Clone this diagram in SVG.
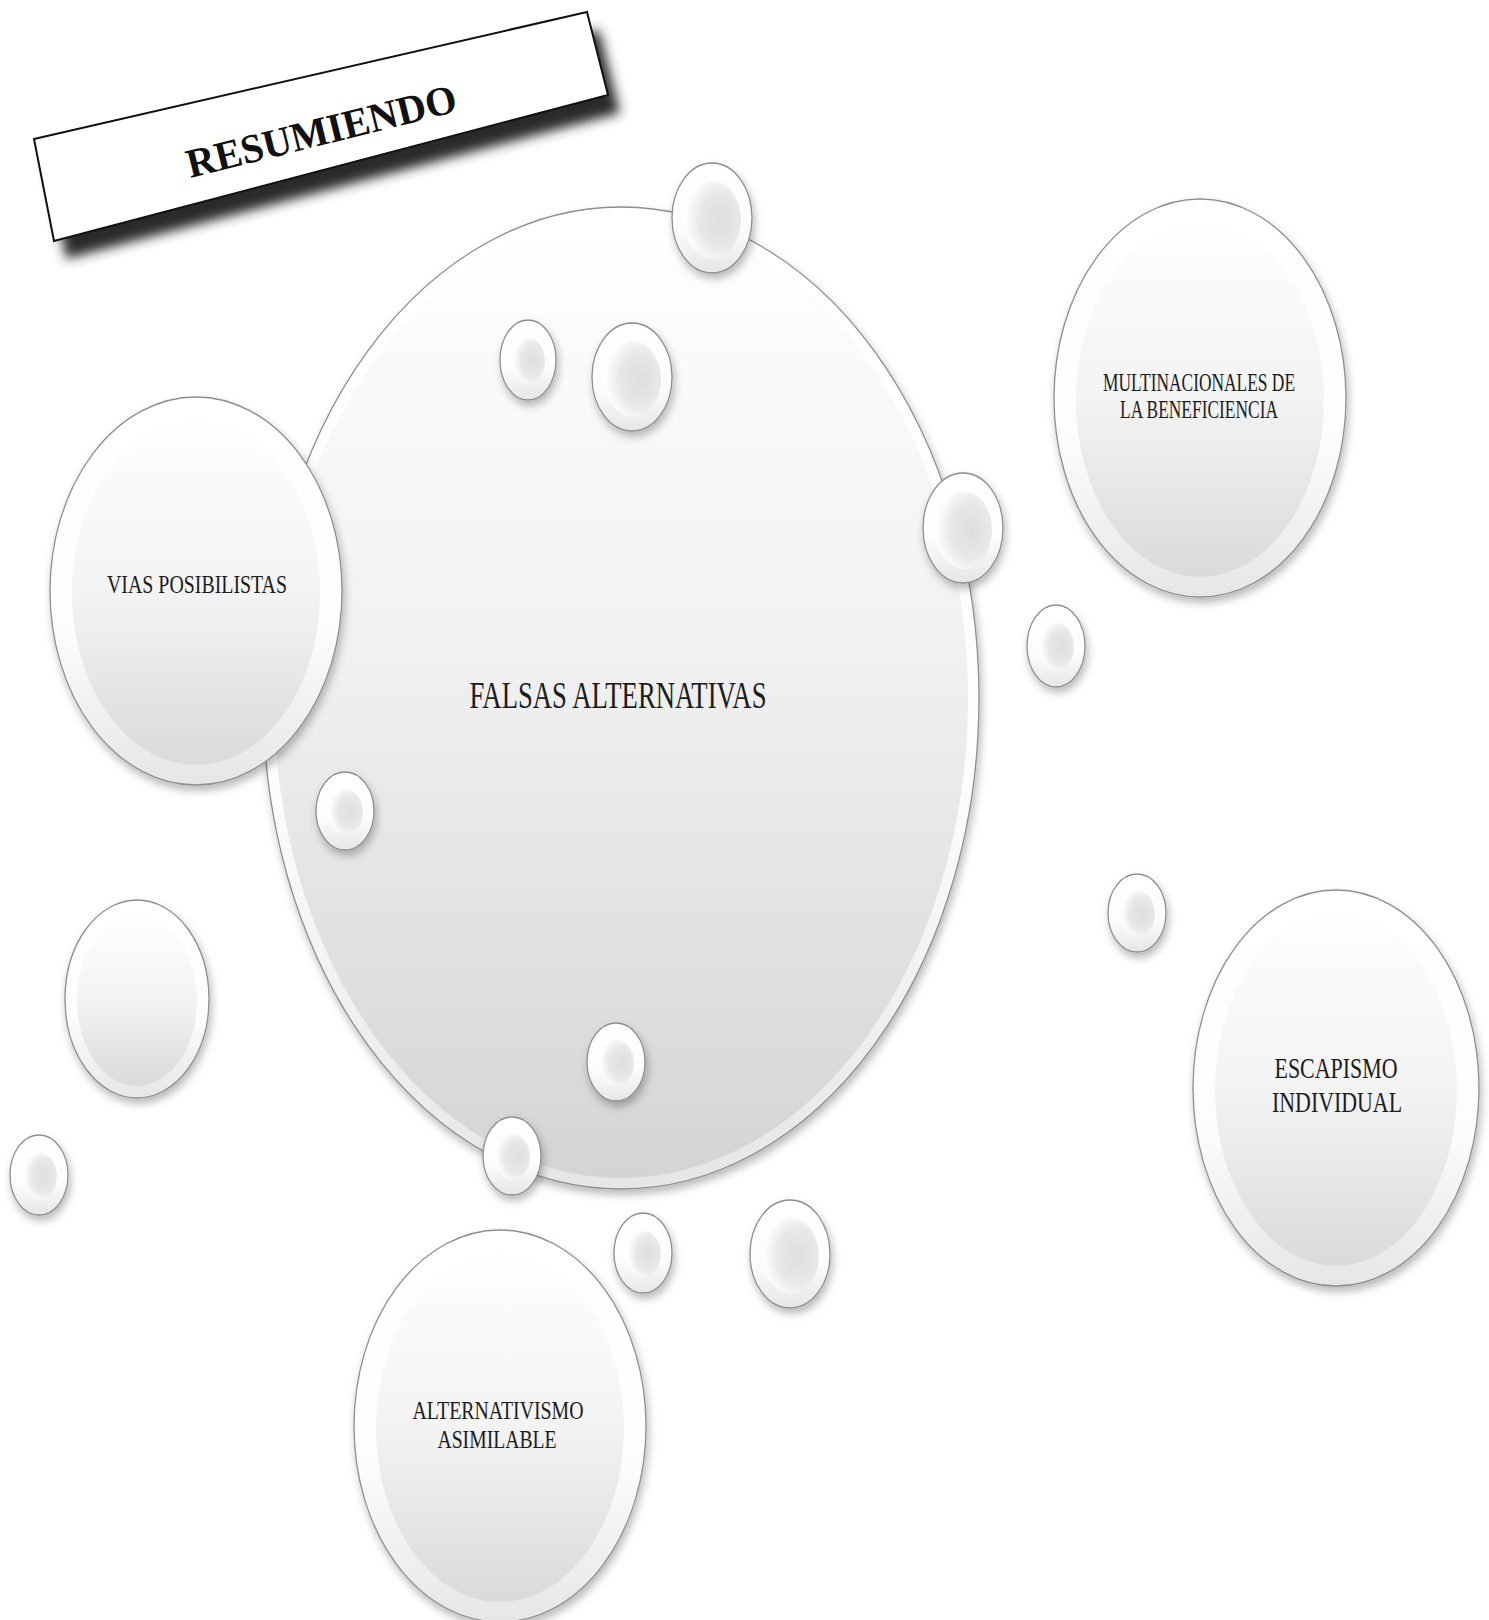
<svg xmlns="http://www.w3.org/2000/svg" width="1489" height="1620" viewBox="0 0 1489 1620">
<defs>
  <linearGradient id="rim" x1="0" y1="0" x2="0" y2="1">
    <stop offset="0" stop-color="#ffffff"/>
    <stop offset="0.6" stop-color="#fcfcfc"/>
    <stop offset="1" stop-color="#e6e6e6"/>
  </linearGradient>
  <linearGradient id="face" x1="0" y1="0" x2="0" y2="1">
    <stop offset="0" stop-color="#fefefe"/>
    <stop offset="0.5" stop-color="#f3f3f3"/>
    <stop offset="1" stop-color="#dadada"/>
  </linearGradient>
  <linearGradient id="faceBig" x1="0" y1="0" x2="0" y2="1">
    <stop offset="0" stop-color="#ffffff"/>
    <stop offset="0.45" stop-color="#f1f1f1"/>
    <stop offset="1" stop-color="#d4d4d4"/>
  </linearGradient>
  <radialGradient id="dot" cx="0.6" cy="0.5" r="0.6" fx="0.64" fy="0.5">
    <stop offset="0" stop-color="#dedede"/>
    <stop offset="0.6" stop-color="#e8e8e8"/>
    <stop offset="1" stop-color="#ffffff"/>
  </radialGradient>
  <filter id="sh" x="-20%" y="-20%" width="140%" height="150%">
    <feDropShadow dx="2" dy="5" stdDeviation="4" flood-color="#000" flood-opacity="0.28"/>
  </filter>
  <filter id="boxsh" x="-10%" y="-30%" width="120%" height="160%">
    <feGaussianBlur stdDeviation="6"/>
  </filter>
  <style>
    .rim{fill:url(#rim);stroke:#8e8e8e;stroke-width:1.3;filter:url(#sh);}
    .face{fill:url(#face);}
    .faceBig{fill:url(#faceBig);}
    .dotface{fill:url(#dot);}
    .lbl{font-family:"Liberation Serif","DejaVu Serif",serif;fill:#1c1c1c;text-anchor:middle;}
  </style>
</defs>
<rect width="1489" height="1620" fill="#ffffff"/>

<!-- Title -->
<g id="title">
  <polygon points="46,157 599,30 620,113 66,259" fill="#2a2a2a" filter="url(#boxsh)"/>
  <polygon points="34,139 587,12 608,95 54,241" fill="#ffffff" stroke="#111" stroke-width="2"/>
  <text transform="translate(321,130) rotate(-14)" x="0" y="15" font-family="Liberation Serif, serif" font-weight="bold" font-size="41" text-anchor="middle" textLength="277" lengthAdjust="spacingAndGlyphs" fill="#111">RESUMIENDO</text>
</g>

<!-- Central node -->
<g id="falsas-alternativas">
  <ellipse class="rim" cx="621" cy="698" rx="358" ry="491"/>
  <ellipse class="faceBig" cx="621" cy="698" rx="347" ry="480"/>
  <text class="lbl" x="618" y="708" font-size="37" textLength="297" lengthAdjust="spacingAndGlyphs">FALSAS ALTERNATIVAS</text>
</g>

<g id="vias-posibilistas">
  <ellipse class="rim" cx="196" cy="591" rx="146" ry="194"/>
  <ellipse class="face" cx="196" cy="593" rx="124" ry="172"/>
  <text class="lbl" x="197" y="593" font-size="26" textLength="180" lengthAdjust="spacingAndGlyphs">VIAS POSIBILISTAS</text>
</g>

<g id="multinacionales">
  <ellipse class="rim" cx="1200" cy="398" rx="146" ry="199"/>
  <ellipse class="face" cx="1200" cy="400" rx="124" ry="177"/>
  <text class="lbl" x="1199" y="391" font-size="25" textLength="192" lengthAdjust="spacingAndGlyphs">MULTINACIONALES DE</text>
  <text class="lbl" x="1199" y="418" font-size="25" textLength="158" lengthAdjust="spacingAndGlyphs">LA BENEFICIENCIA</text>
</g>

<g id="escapismo-individual">
  <ellipse class="rim" cx="1336" cy="1088" rx="143" ry="198"/>
  <ellipse class="face" cx="1336" cy="1090" rx="121" ry="176"/>
  <text class="lbl" x="1336" y="1078" font-size="30" textLength="123" lengthAdjust="spacingAndGlyphs">ESCAPISMO</text>
  <text class="lbl" x="1337" y="1112" font-size="30" textLength="130" lengthAdjust="spacingAndGlyphs">INDIVIDUAL</text>
</g>

<g id="alternativismo-asimilable">
  <ellipse class="rim" cx="500" cy="1426" rx="146" ry="196"/>
  <ellipse class="face" cx="500" cy="1428" rx="124" ry="174"/>
  <text class="lbl" x="498" y="1419" font-size="25" textLength="171" lengthAdjust="spacingAndGlyphs">ALTERNATIVISMO</text>
  <text class="lbl" x="497" y="1448" font-size="25" textLength="119" lengthAdjust="spacingAndGlyphs">ASIMILABLE</text>
</g>

<g id="empty-circle">
  <ellipse class="rim" cx="137" cy="999" rx="72" ry="99"/>
  <ellipse class="face" cx="137" cy="1001" rx="60" ry="85"/>
</g>

<!-- Decorative bubbles -->
<g id="bubbles">
  <g id="bubble-1"><ellipse class="rim" cx="712" cy="218" rx="40" ry="55"/><ellipse class="dotface" cx="713" cy="220" rx="28" ry="39"/></g>
  <g id="bubble-2"><ellipse class="rim" cx="528" cy="360" rx="28" ry="40"/><ellipse class="dotface" cx="529" cy="361" rx="16" ry="23"/></g>
  <g id="bubble-3"><ellipse class="rim" cx="632" cy="377" rx="40" ry="54"/><ellipse class="dotface" cx="633" cy="379" rx="28" ry="38"/></g>
  <g id="bubble-4"><ellipse class="rim" cx="963" cy="528" rx="40" ry="55"/><ellipse class="dotface" cx="964" cy="530" rx="28" ry="39"/></g>
  <g id="bubble-5"><ellipse class="rim" cx="1056" cy="646" rx="29" ry="41"/><ellipse class="dotface" cx="1057" cy="647" rx="17" ry="24"/></g>
  <g id="bubble-6"><ellipse class="rim" cx="345" cy="811" rx="29" ry="39"/><ellipse class="dotface" cx="346" cy="812" rx="17" ry="23"/></g>
  <g id="bubble-7"><ellipse class="rim" cx="1137" cy="913" rx="29" ry="39"/><ellipse class="dotface" cx="1138" cy="914" rx="17" ry="23"/></g>
  <g id="bubble-8"><ellipse class="rim" cx="616" cy="1062" rx="29" ry="39"/><ellipse class="dotface" cx="617" cy="1063" rx="17" ry="23"/></g>
  <g id="bubble-9"><ellipse class="rim" cx="512" cy="1156" rx="29" ry="39"/><ellipse class="dotface" cx="513" cy="1157" rx="17" ry="23"/></g>
  <g id="bubble-10"><ellipse class="rim" cx="39" cy="1175" rx="29" ry="40"/><ellipse class="dotface" cx="40" cy="1176" rx="17" ry="23"/></g>
  <g id="bubble-11"><ellipse class="rim" cx="643" cy="1253" rx="29" ry="40"/><ellipse class="dotface" cx="644" cy="1254" rx="17" ry="23"/></g>
  <g id="bubble-12"><ellipse class="rim" cx="790" cy="1254" rx="40" ry="54"/><ellipse class="dotface" cx="791" cy="1256" rx="28" ry="38"/></g>
</g>

<g id="connectors"></g>
</svg>
